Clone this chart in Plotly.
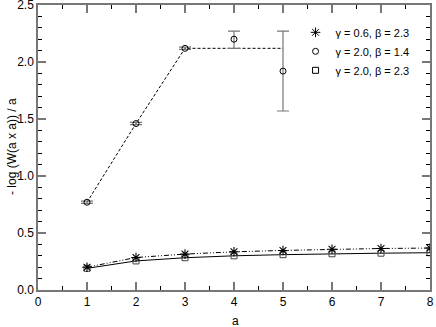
import plotly.graph_objects as go

# data
a_vals = [1, 2, 3, 4, 5, 6, 7, 8]
x_ticks = [0, 1, 2, 3, 4, 5, 6, 7, 8]

# gamma = 2.0, beta = 1.4 (upper circles)
a_circ = [1, 2, 3, 4, 5]
w_circ = [0.77, 1.46, 2.12, 2.20, 1.92]
err_plus = [0.01, 0.01, 0.01, 0.07, 0.35]
err_minus = [0.01, 0.01, 0.01, 0.08, 0.35]
# dashed guide line through the upper points
a_guide = [1, 2, 3, 4, 5]
w_guide = [0.77, 1.46, 2.12, 2.12, 2.12]

# gamma = 0.6, beta = 2.3 (stars)
w_star = [0.20, 0.285, 0.315, 0.335, 0.347, 0.357, 0.364, 0.368]
# gamma = 2.0, beta = 2.3 (squares)
w_sq = [0.19, 0.255, 0.283, 0.30, 0.31, 0.318, 0.323, 0.327]

legend_names = ["\u03b3 = 0.6, \u03b2 = 2.3",
                "\u03b3 = 2.0, \u03b2 = 1.4",
                "\u03b3 = 2.0, \u03b2 = 2.3"]

FONT = "Liberation Sans, Arial, Helvetica, sans-serif"

fig = go.Figure()

# lines first
fig.add_trace(go.Scatter(x=a_guide, y=w_guide, mode="lines",
                         line=dict(color="black", width=1, dash="3px,2px"),
                         showlegend=False, hoverinfo="skip"))
fig.add_trace(go.Scatter(x=a_vals, y=w_star, mode="lines",
                         line=dict(color="black", width=1,
                                   dash="5px,2px,1px,2px,1px,2px"),
                         showlegend=False))
fig.add_trace(go.Scatter(x=a_vals, y=w_sq, mode="lines",
                         line=dict(color="black", width=1),
                         showlegend=False))

# markers
fig.add_trace(go.Scatter(
    x=a_circ, y=w_circ, mode="markers",
    marker=dict(symbol="circle-open", size=6, color="black",
                line=dict(width=1, color="black")),
    error_y=dict(type="data", array=err_plus, arrayminus=err_minus,
                 color="#777777", thickness=1.2, width=6),
    showlegend=False))
fig.add_trace(go.Scatter(
    x=a_vals, y=w_sq, mode="markers",
    marker=dict(symbol="square-open", size=6, color="#444444",
                line=dict(width=1, color="#444444")),
    showlegend=False))
fig.add_trace(go.Scatter(
    x=a_vals, y=w_star, mode="markers",
    marker=dict(symbol="asterisk-open", size=8, color="black",
                line=dict(width=1.1, color="black")),
    showlegend=False))

# legend entries (marker only)
leg_symbols = ["asterisk-open", "circle-open", "square-open"]
for name, sym in zip(legend_names, leg_symbols):
    fig.add_trace(go.Scatter(
        x=[None], y=[None], mode="markers", name=name,
        marker=dict(symbol=sym, size=6 if sym != "asterisk-open" else 8,
                    color="black", line=dict(width=1, color="black"))))

axis_common = dict(
    showline=True, linecolor="#777777", linewidth=1.5, mirror="ticks",
    ticks="inside", tickcolor="#777777", tickwidth=1.5, ticklen=8,
    showgrid=False, zeroline=False, automargin=False,
    ticklabeloverflow="allow",
    tickfont=dict(family=FONT, size=12, color="black"),
)

fig.update_xaxes(range=[0, 8], tickvals=x_ticks,
                 minor=dict(dtick=0.5, ticks="inside", ticklen=4,
                            tickcolor="black", tickwidth=1),
                 **axis_common)
fig.update_yaxes(range=[0, 2.5], dtick=0.5, tickformat=".1f",
                 minor=dict(dtick=0.1, ticks="inside", ticklen=4,
                            tickcolor="black", tickwidth=1),
                 **axis_common)

fig.add_annotation(text="a", xref="paper", yref="paper",
                   x=(236 - 38) / 392, y=-(321 - 290) / 285,
                   showarrow=False, font=dict(family=FONT, size=12),
                   xanchor="center", yanchor="middle")
fig.add_annotation(text="- log (W(a x a)) / a", xref="paper", yref="paper",
                   x=-(38 - 12) / 392, y=(290 - 147) / 285, textangle=-90,
                   showarrow=False, font=dict(family=FONT, size=12),
                   xanchor="center", yanchor="middle")

fig.update_layout(
    width=436, height=327,
    margin=dict(l=38, r=6, t=5, b=37, autoexpand=False),
    plot_bgcolor="white", paper_bgcolor="white",
    font=dict(family=FONT, size=12, color="black"),
    legend=dict(x=0.657, y=0.955, xanchor="left", yanchor="top",
                bgcolor="rgba(0,0,0,0)", itemwidth=30,
                font=dict(family=FONT, size=11), tracegroupgap=0),
)

# drop the browser's default 8px page margin so the figure sits at 0,0
fig.write_html("out.html", config={"displayModeBar": False},
               post_script="document.body.style.margin='0';"
                           "document.body.style.overflow='hidden';")
